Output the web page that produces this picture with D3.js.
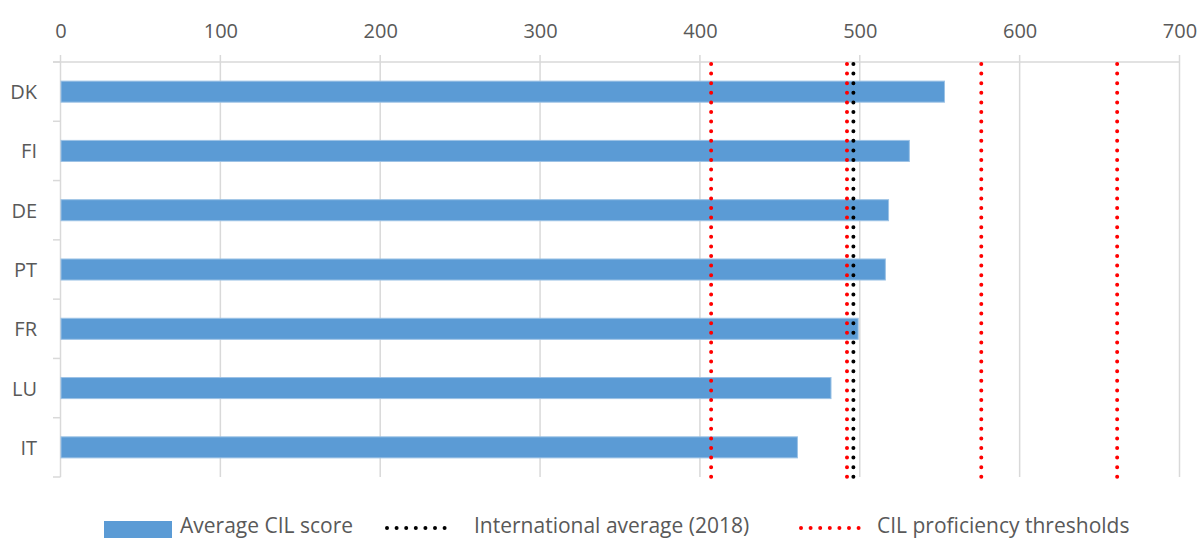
<!DOCTYPE html>
<html>
<head>
<meta charset="utf-8">
<script src="https://cdn.jsdelivr.net/npm/d3@7/dist/d3.min.js"></script>
<style>
  html, body { margin: 0; padding: 0; background: #fff; }
  svg { display: block; font-family: "Open Sans", "Liberation Sans", sans-serif; }
</style>
</head>
<body>
<svg id="chart" width="1199" height="538"></svg>
<script>
// Countries, top to bottom
const countries = ["DK", "FI", "DE", "PT", "FR", "LU", "IT"];
// Average CIL score per country
const cilScores = [553, 531, 518, 516, 499, 482, 461];
// International average (2018)
const internationalAverage = [496];
// CIL proficiency level thresholds
const proficiencyThresholds = [407, 492, 576, 661];
// Axis ticks
const xTicks = [0, 100, 200, 300, 400, 500, 600, 700];
// Legend entries
const legendLabels = ["Average CIL score", "International average (2018)", "CIL proficiency thresholds"];

const svg = d3.select("#chart");
const gridColor = "#d9d9d9";
const textColor = "#595959";
const barColor = "#5b9bd5";

const plotTop = 62, plotBottom = 477;
const x = d3.scaleLinear().domain([0, 700]).range([60.5, 1179.5]);
const y = d3.scaleBand().domain(countries).range([plotTop, plotBottom]).padding(0);
const barH = y.bandwidth() * 0.355;

// vertical gridlines (they also poke above the top axis as tick marks)
svg.append("g").selectAll("line").data(xTicks).join("line")
  .attr("x1", d => x(d)).attr("x2", d => x(d))
  .attr("y1", plotTop - 7).attr("y2", plotBottom)
  .attr("stroke", gridColor).attr("stroke-width", 1.5);

// top axis line
svg.append("line")
  .attr("x1", 53).attr("x2", x(700)).attr("y1", plotTop).attr("y2", plotTop)
  .attr("stroke", gridColor).attr("stroke-width", 1.5);

// top axis labels
const xAxis = d3.axisTop(x).tickValues(xTicks).tickSize(0).tickPadding(0).tickFormat(d3.format("d"));
const gx = svg.append("g").attr("transform", `translate(0,38)`).call(xAxis);
gx.select(".domain").remove();
gx.selectAll("text").attr("font-size", 20).attr("fill", textColor)
  .attr("font-family", "Open Sans").attr("dy", 0);

// left category axis: boundary tick marks
const boundaries = countries.map(c => y(c)).concat([plotBottom]);
svg.append("g").selectAll("line").data(boundaries).join("line")
  .attr("x1", 53).attr("x2", x(0)).attr("y1", d => d).attr("y2", d => d)
  .attr("stroke", gridColor).attr("stroke-width", 1.5);

// category labels
svg.append("g").selectAll("text").data(countries).join("text")
  .attr("x", 37).attr("y", d => y(d) + y.bandwidth() / 2)
  .attr("text-anchor", "end").attr("dominant-baseline", "central")
  .attr("font-size", 20).attr("fill", textColor)
  .text(d => d);

// bars
svg.append("g").selectAll("rect").data(countries).join("rect")
  .attr("x", x(0) + 0.5)
  .attr("y", d => y(d) + (y.bandwidth() - barH) / 2)
  .attr("width", (d, i) => x(cilScores[i]) - x(0) - 0.5)
  .attr("height", barH)
  .attr("fill", barColor)
  .attr("stroke", "#9cc2e5").attr("stroke-width", 1);

// dotted reference lines
function dotted(sel, color) {
  return sel.attr("stroke", color).attr("stroke-width", 4)
    .attr("stroke-linecap", "round").attr("stroke-dasharray", "0 9.6");
}
svg.append("g").selectAll("line").data(proficiencyThresholds).join("line")
  .attr("x1", d => x(d)).attr("x2", d => x(d))
  .attr("y1", plotTop + 2).attr("y2", plotBottom)
  .call(dotted, "#ff0000");
svg.append("g").selectAll("line").data(internationalAverage).join("line")
  .attr("x1", d => x(d)).attr("x2", d => x(d))
  .attr("y1", plotTop + 2).attr("y2", plotBottom)
  .call(dotted, "#000000");

// legend
const legend = svg.append("g");
const ly = 528;
legend.append("rect").attr("x", 104).attr("y", 521).attr("width", 68).attr("height", 17).attr("fill", barColor);
legend.append("line").attr("x1", 387).attr("x2", 447).attr("y1", ly).attr("y2", ly).call(dotted, "#000000");
legend.append("line").attr("x1", 801).attr("x2", 861).attr("y1", ly).attr("y2", ly).call(dotted, "#ff0000");
const legendX = [180, 474, 877];
legend.selectAll("text").data(legendLabels).join("text")
  .attr("x", (d, i) => legendX[i]).attr("y", 533)
  .attr("font-size", 21).attr("fill", textColor)
  .text(d => d);
</script>
</body>
</html>
